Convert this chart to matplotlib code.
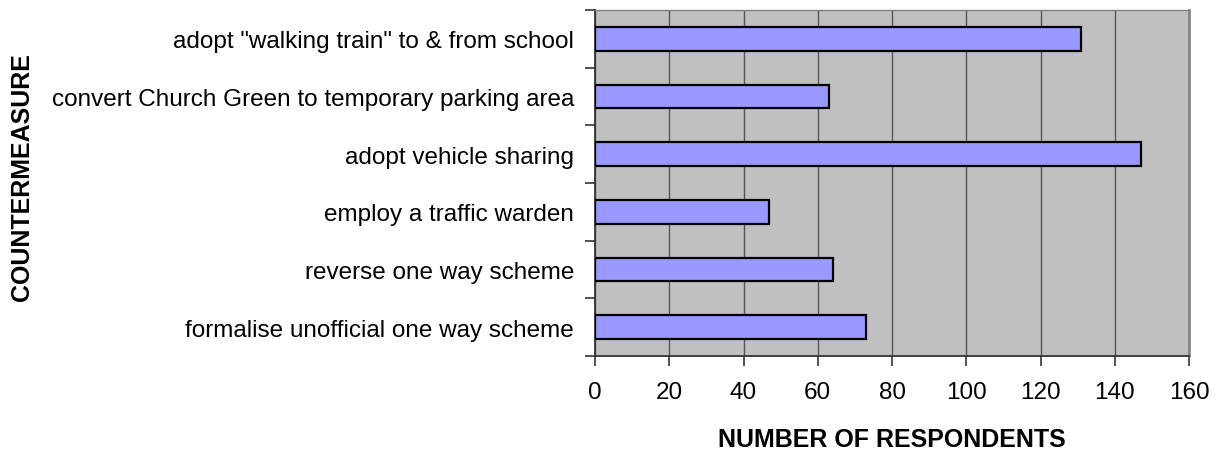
import matplotlib.pyplot as plt
import numpy as np

countermeasures = [
    'formalise unofficial one way scheme',
    'reverse one way scheme',
    'employ a traffic warden',
    'adopt vehicle sharing',
    'convert Church Green to temporary parking area',
    'adopt "walking train" to & from school',
]
respondents = [73, 64, 47, 147, 63, 131]
xticks = [0, 20, 40, 60, 80, 100, 120, 140, 160]

plt.rcParams['font.family'] = ['Liberation Sans', 'DejaVu Sans']

fig = plt.figure(figsize=(12.18, 4.52), dpi=100)
ax = fig.add_axes([595 / 1218, 1 - 357 / 452, (1189 - 595) / 1218, (357 - 11) / 452])

ypos = np.arange(len(countermeasures))
ax.barh(ypos, respondents, height=0.405, color='#9999FF', edgecolor='black',
        linewidth=1.6, zorder=3)

ax.set_facecolor('#C0C0C0')
ax.set_xlim(0, 160)
ax.set_ylim(-0.5, len(countermeasures) - 0.5)
ax.set_xticks(xticks)
ax.set_xticklabels([str(v) for v in xticks], fontsize=17.5)
ax.xaxis.grid(True, color='#555555', linewidth=1.0, zorder=1)
ax.set_axisbelow(True)

# category labels centred on bars, ticks on the boundaries
ax.set_yticks(ypos)
ax.set_yticklabels(countermeasures, fontsize=17.5)
ax.tick_params(axis='y', which='major', length=0, pad=15)
ax.set_yticks(np.arange(-0.5, len(countermeasures), 1.0), minor=True)
ax.tick_params(axis='y', which='minor', length=7, width=1.2, color='#333333', direction='out')
ax.tick_params(axis='x', length=7, width=1.2, color='#333333', direction='out', pad=11)

for side in ['left', 'bottom']:
    ax.spines[side].set_color('#333333')
    ax.spines[side].set_linewidth(1.3)
ax.spines['top'].set_color('#808080')
ax.spines['top'].set_linewidth(1.0)
ax.spines['right'].set_color('#808080')
ax.spines['right'].set_linewidth(1.8)

ax.set_xlabel('NUMBER OF RESPONDENTS', fontsize=18, fontweight='bold', labelpad=17)
ax.set_ylabel('COUNTERMEASURE', fontsize=18, fontweight='bold')
ax.yaxis.set_label_coords(-(595 - 22.5) / 594, 0.52)
ax.yaxis.label.set_va('center')

fig.savefig('out.png', dpi=100)
